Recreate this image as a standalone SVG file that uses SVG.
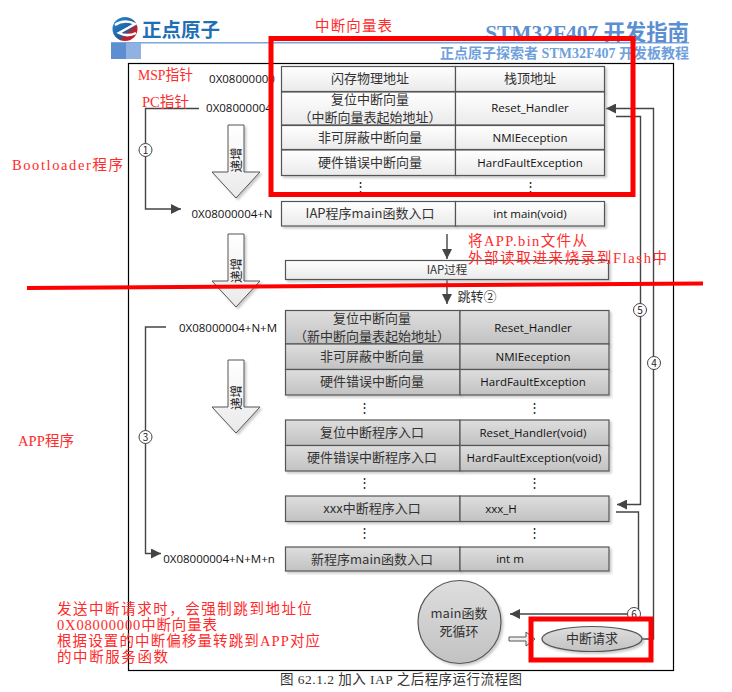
<svg xmlns="http://www.w3.org/2000/svg" width="732" height="692" viewBox="0 0 732 692">
<style>
.z{font-family:"Noto Sans CJK SC","Noto Sans",sans-serif;font-size:12.5px;fill:#222;text-anchor:middle}
.c{font-family:"Noto Sans CJK SC",sans-serif;font-size:13px;fill:#333;text-anchor:middle}
.a{font-family:"Open Sans","Noto Sans CJK SC",sans-serif;font-size:11.5px;fill:#111;text-anchor:middle}
.w{fill:url(#gw);stroke:#555;stroke-width:1.2;filter:url(#sh)}
.g{fill:url(#gg);stroke:#555;stroke-width:1.2;filter:url(#sh)}
.l{fill:none;stroke:#444;stroke-width:1.4}
.rb{fill:none;stroke:#f00;stroke-width:5}
.ar{fill:url(#gw);stroke:#555;stroke-width:1;filter:url(#sh)}
.d{font-family:"Noto Sans CJK SC",sans-serif;font-size:10px;fill:#222;text-anchor:middle}
.i{font-family:"Noto Sans CJK SC",sans-serif;font-size:12.5px;fill:#222;text-anchor:middle}
.n{font-family:"Noto Sans CJK SC","DejaVu Sans",sans-serif;font-size:13px;fill:#333;text-anchor:middle}
.m{font-family:"Liberation Serif","Noto Sans CJK SC",serif;font-size:14.5px;fill:#ff2a2a}
</style>
<defs>
<linearGradient id="gw" x1="0" y1="0" x2="0" y2="1"><stop offset="0" stop-color="#fff"/><stop offset="1" stop-color="#eaeaea"/></linearGradient>
<linearGradient id="gg" x1="0" y1="0" x2="0" y2="1"><stop offset="0" stop-color="#dedede"/><stop offset="1" stop-color="#c2c2c2"/></linearGradient>
<linearGradient id="gb" x1="0" y1="0" x2="1" y2="1"><stop offset="0" stop-color="#2f8fd8"/><stop offset="0.55" stop-color="#1a5f9e"/><stop offset="0.7" stop-color="#c0202a"/><stop offset="1" stop-color="#b3202a"/></linearGradient>
<filter id="sh" x="-5%" y="-5%" width="110%" height="120%"><feDropShadow dx="2" dy="2" stdDeviation="1.2" flood-color="#999" flood-opacity="0.5"/></filter>
<marker id="ah" markerWidth="11" markerHeight="10" refX="10" refY="5" orient="auto" markerUnits="userSpaceOnUse"><path d="M0,0L10,5L0,10z" fill="#444"/></marker>
<path id="down" d="M-8,-41H8V6H24L0,32L-24,6H-8z"/>
</defs>
<rect width="732" height="692" fill="#fff"/>

<g id="header">
<ellipse cx="125" cy="29" rx="12.500" ry="12" fill="url(#gb)"/>
<path d="M115,25C122,20 130,21 135,24L119,33C125,36 130,36 136,33" fill="none" stroke="#fff" stroke-width="2.500"/>
<text x="142" y="37" font-family="Noto Sans CJK SC,sans-serif" font-weight="700" font-size="19.500" fill="#1f6fb5">正点原子</text>
<rect x="111" y="42" width="578" height="1.500" fill="#7ea6dc"/>
<rect x="111" y="43" width="15" height="16" fill="#5b8fd2"/>
<rect x="126" y="43" width="15" height="16" fill="#8fb2e2"/>
<text x="689" y="40" text-anchor="end" font-family="Liberation Serif,Noto Sans CJK SC,serif" font-weight="700" font-size="21.400" fill="#5b8fd2">STM32F407 开发指南</text>
<text x="689" y="58" text-anchor="end" font-family="Liberation Serif,Noto Sans CJK SC,serif" font-weight="700" font-size="14" fill="#6f9fdc">正点原子探索者 STM32F407 开发板教程</text>
</g>
<rect id="frame" x="128.500" y="63.500" width="545" height="607" fill="none" stroke="#000" stroke-width="1.200"/>

<g id="connectors">
<path class="l" d="M199,108.500H145.500V209H181" marker-end="url(#ah)"/>
<path class="l" d="M166,327H145.500V553.500H161" marker-end="url(#ah)"/>
<path class="l" d="M447,234V259" marker-end="url(#ah)"/>
<path class="l" d="M447,280V304" marker-end="url(#ah)"/>
<path class="l" d="M616,116.500H640.500V504.500H617" marker-end="url(#ah)"/>
<path class="l" d="M642,639H653.500V108.500H606" marker-end="url(#ah)"/>
<path class="l" d="M616,512H638.500V614H510" marker-end="url(#ah)"/>
<path d="M509,637H526V632L535,639L526,646V641H509z" fill="#eee" stroke="#555"/>
</g>

<g id="inc1"><use href="#down" transform="translate(236,166)" class="ar"/><text class="i" transform="translate(241,160) rotate(-90)">递增</text></g>
<g id="inc2"><use href="#down" transform="translate(236,275)" class="ar"/><text class="i" transform="translate(241,270.500) rotate(-90)">递增</text></g>
<g id="inc3"><use href="#down" transform="translate(236,401)" class="ar"/><text class="i" transform="translate(241,397.500) rotate(-90)">递增</text></g>

<g id="table1">
<rect class="w" x="281.500" y="66.500" width="174" height="25"/><rect class="w" x="455.500" y="66.500" width="149" height="25"/>
<text class="c" x="370" y="83">闪存物理地址</text><text class="c" x="530" y="83">栈顶地址</text>
<rect class="w" x="281.500" y="92" width="174" height="33"/><rect class="w" x="455.500" y="92" width="149" height="33"/>
<text class="c" x="370" y="104">复位中断向量</text><text class="c" x="370" y="122">（中断向量表起始地址）</text><text class="a" x="530" y="112">Reset_Handler</text>
<rect class="w" x="281.500" y="125.500" width="174" height="24"/><rect class="w" x="455.500" y="125.500" width="149" height="24"/>
<text class="c" x="370" y="142">非可屏蔽中断向量</text><text class="a" x="530" y="142">NMIEeception</text>
<rect class="w" x="281.500" y="150" width="174" height="25.500"/><rect class="w" x="455.500" y="150" width="149" height="25.500"/>
<text class="c" x="370" y="167">硬件错误中断向量</text><text class="a" x="530" y="167">HardFaultException</text>
<text class="z" x="360" y="191">⋮</text><text class="z" x="530" y="191">⋮</text>
</g>
<g id="iapmain">
<rect class="w" x="281.500" y="201.500" width="174" height="24.500"/><rect class="w" x="455.500" y="201.500" width="149" height="24.500"/>
<text class="c" x="370" y="218">IAP程序main函数入口</text><text class="a" x="530" y="218">int main(void)</text>
</g>
<g id="iap"><rect class="w" x="285.500" y="260.500" width="323" height="19"/><text class="c" x="447" y="274" style="font-size:11.500px">IAP过程</text></g>

<g id="table2">
<rect class="g" x="285.500" y="310.500" width="174.500" height="33.500"/><rect class="g" x="460" y="310.500" width="149" height="33.500"/>
<text class="c" x="372" y="323">复位中断向量</text><text class="c" x="372" y="341">（新中断向量表起始地址）</text><text class="a" x="533" y="332">Reset_Handler</text>
<rect class="g" x="285.500" y="344" width="174.500" height="25.500"/><rect class="g" x="460" y="344" width="149" height="25.500"/>
<text class="c" x="372" y="361">非可屏蔽中断向量</text><text class="a" x="533" y="361">NMIEeception</text>
<rect class="g" x="285.500" y="369.500" width="174.500" height="25.500"/><rect class="g" x="460" y="369.500" width="149" height="25.500"/>
<text class="c" x="372" y="386">硬件错误中断向量</text><text class="a" x="533" y="386">HardFaultException</text>
<text class="z" x="364" y="412">⋮</text><text class="z" x="534" y="412">⋮</text>
<rect class="g" x="285.500" y="420" width="174.500" height="25.500"/><rect class="g" x="460" y="420" width="149" height="25.500"/>
<text class="c" x="372" y="437">复位中断程序入口</text><text class="a" x="533" y="437">Reset_Handler(void)</text>
<rect class="g" x="285.500" y="445.500" width="174.500" height="25.500"/><rect class="g" x="460" y="445.500" width="149" height="25.500"/>
<text class="c" x="372" y="462">硬件错误中断程序入口</text><text class="a" x="534" y="462">HardFaultException(void)</text>
<text class="z" x="364" y="487">⋮</text><text class="z" x="534" y="487">⋮</text>
<rect class="g" x="285.500" y="496" width="174.500" height="25.500"/><rect class="g" x="460" y="496" width="149" height="25.500"/>
<text class="c" x="372" y="513">xxx中断程序入口</text><text class="a" x="501" y="513">xxx_H</text>
<text class="z" x="364" y="537">⋮</text><text class="z" x="534" y="537">⋮</text>
<rect class="g" x="285.500" y="547" width="174.500" height="24"/><rect class="g" x="460" y="547" width="149" height="24"/>
<text class="c" x="372" y="564">新程序main函数入口</text><text class="a" x="510" y="563">int m</text>
</g>

<g id="mainloop"><circle class="g" cx="459.500" cy="622" r="41.500"/><text class="c" x="459" y="618">main函数</text><text class="c" x="459" y="636">死循环</text></g>
<g id="irq"><ellipse class="g" cx="592" cy="639" rx="50" ry="12.500"/><text class="c" x="592" y="643">中断请求</text></g>

<g id="addresses">
<text class="a" x="242" y="83">0X08000000</text>
<text class="a" x="239" y="112">0X08000004</text>
<text class="a" x="232" y="218">0X08000004+N</text>
<text class="a" x="228" y="332">0X08000004+N+M</text>
<text class="a" x="219" y="563">0X08000004+N+M+n</text>
</g>

<g id="steps">
<circle cx="145.500" cy="150" r="6.500" fill="#fff" stroke="#444"/><text class="d" x="145.500" y="154">1</text>
<circle cx="145.500" cy="437" r="6.500" fill="#fff" stroke="#444"/><text class="d" x="145.500" y="441">3</text>
<circle cx="640" cy="310" r="6.500" fill="#fff" stroke="#444"/><text class="d" x="640" y="314">5</text>
<circle cx="654" cy="363" r="6.500" fill="#fff" stroke="#444"/><text class="d" x="654" y="367">4</text>
<circle cx="634" cy="614" r="6.500" fill="#fff" stroke="#444"/><text class="d" x="634" y="618">6</text>
<text class="n" x="477" y="301">跳转②</text>
</g>

<g id="annotations">
<text class="m" x="315" y="31" textLength="77">中断向量表</text>
<text class="m" x="138" y="80" textLength="55" lengthAdjust="spacingAndGlyphs">MSP指针</text>
<text class="m" x="142" y="107" textLength="47" lengthAdjust="spacingAndGlyphs">PC指针</text>
<text class="m" x="12" y="170" textLength="111">Bootloader程序</text>
<text class="m" x="18" y="446" textLength="56">APP程序</text>
<text class="m" x="468" y="246" textLength="119">将APP.bin文件从</text>
<text class="m" x="468" y="263" textLength="199">外部读取进来烧录到Flash中</text>
<text class="m" x="57" y="614" textLength="255">发送中断请求时，会强制跳到地址位</text>
<text class="m" x="57" y="630" textLength="160">0X08000000中断向量表</text>
<text class="m" x="57" y="646" textLength="263">根据设置的中断偏移量转跳到APP对应</text>
<text class="m" x="57" y="662" textLength="111">的中断服务函数</text>
<rect class="rb" x="271" y="38.500" width="362" height="156"/>
<rect class="rb" x="531" y="619" width="120" height="41"/>
<path d="M27,288L703,283.500" stroke="#f00" stroke-width="4" fill="none"/>
</g>
<text id="caption" x="280" y="684" textLength="242" font-family="Liberation Serif,Noto Sans CJK SC,serif" font-size="13.500" fill="#333">图 62.1.2  加入 IAP 之后程序运行流程图</text>
</svg>
